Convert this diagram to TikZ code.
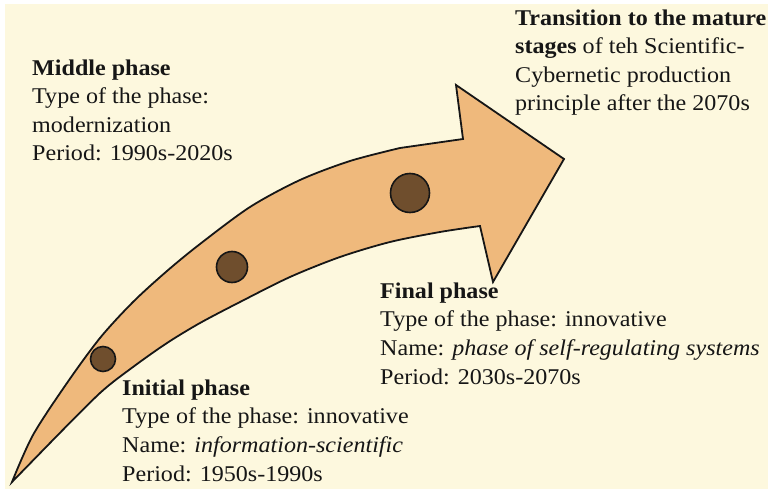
\documentclass[tikz,border=0pt]{standalone}
\usepackage{fontspec}
\setmainfont{Liberation Serif}[FakeStretch=1.07]
\usepackage{xcolor}
\usepackage{tikz}
\usetikzlibrary{positioning}
\definecolor{bgcream}{RGB}{253,248,222}
\definecolor{arrowtan}{RGB}{239,185,124}
\definecolor{dotbrown}{RGB}{111,78,45}
\definecolor{inkdark}{RGB}{22,22,22}
\tikzstyle{phasetext} = [anchor=base west, align=left, inner sep=0pt, text=inkdark, font=\fontsize{22.5}{28.6}\selectfont]
\tikzstyle{arrowbody} = [draw=inkdark, fill=arrowtan, line width=1.8pt, line join=miter]
\tikzstyle{stagedot} = [draw=inkdark, fill=dotbrown, circle, line width=1.6pt, inner sep=0pt]

\begin{document}
\begin{tikzpicture}[x=1pt, y=-1pt]
    \useasboundingbox (0,0) rectangle (768,489);
    \fill[white] (0,0) rectangle (768,489);
    \fill[bgcream] (5,4) rectangle (768,489);
    % curved arrow
    \filldraw[arrowbody] (463,139)
        -- plot[smooth] coordinates {(400,148) (350,161) (300,180) (250,207) (200,244) (167,271) (133,302) (100,338) (67,383) (33,435) (12,482)}
        -- plot[smooth] coordinates {(50,443) (100,393) (133,367) (167,343) (200,323) (240,302) (290,277) (340,257) (390,242) (440,232) (480,226)}
        -- (493,282) -- (564,159) -- (456,85) -- cycle;
    \node[stagedot, minimum size=25pt] (dot1) at (103,359) {};
    \node[stagedot, minimum size=31pt] (dot2) at (232,267) {};
    \node[stagedot, minimum size=39pt] (dot3) at (410,193) {};
    % phase labels (base = last line)
    \node[phasetext] (middle) at (32,161) {\textbf{Middle phase}\\Type of the phase:\\modernization\\Period: 1990s-2020s};
    \node[phasetext] (transition) at (515,111) {\textbf{Transition to the mature}\\\textbf{stages} of teh Scientific-\\Cybernetic production\\principle after the 2070s};
    \node[phasetext] (final) at (380,384) {\textbf{Final phase}\\Type of the phase: innovative\\Name: \textit{phase of self-regulating systems}\\Period: 2030s-2070s};
    \node[phasetext] (initial) at (122,481) {\textbf{Initial phase}\\Type of the phase: innovative\\Name: \textit{information-scientific}\\Period: 1950s-1990s};
\end{tikzpicture}
\end{document}
